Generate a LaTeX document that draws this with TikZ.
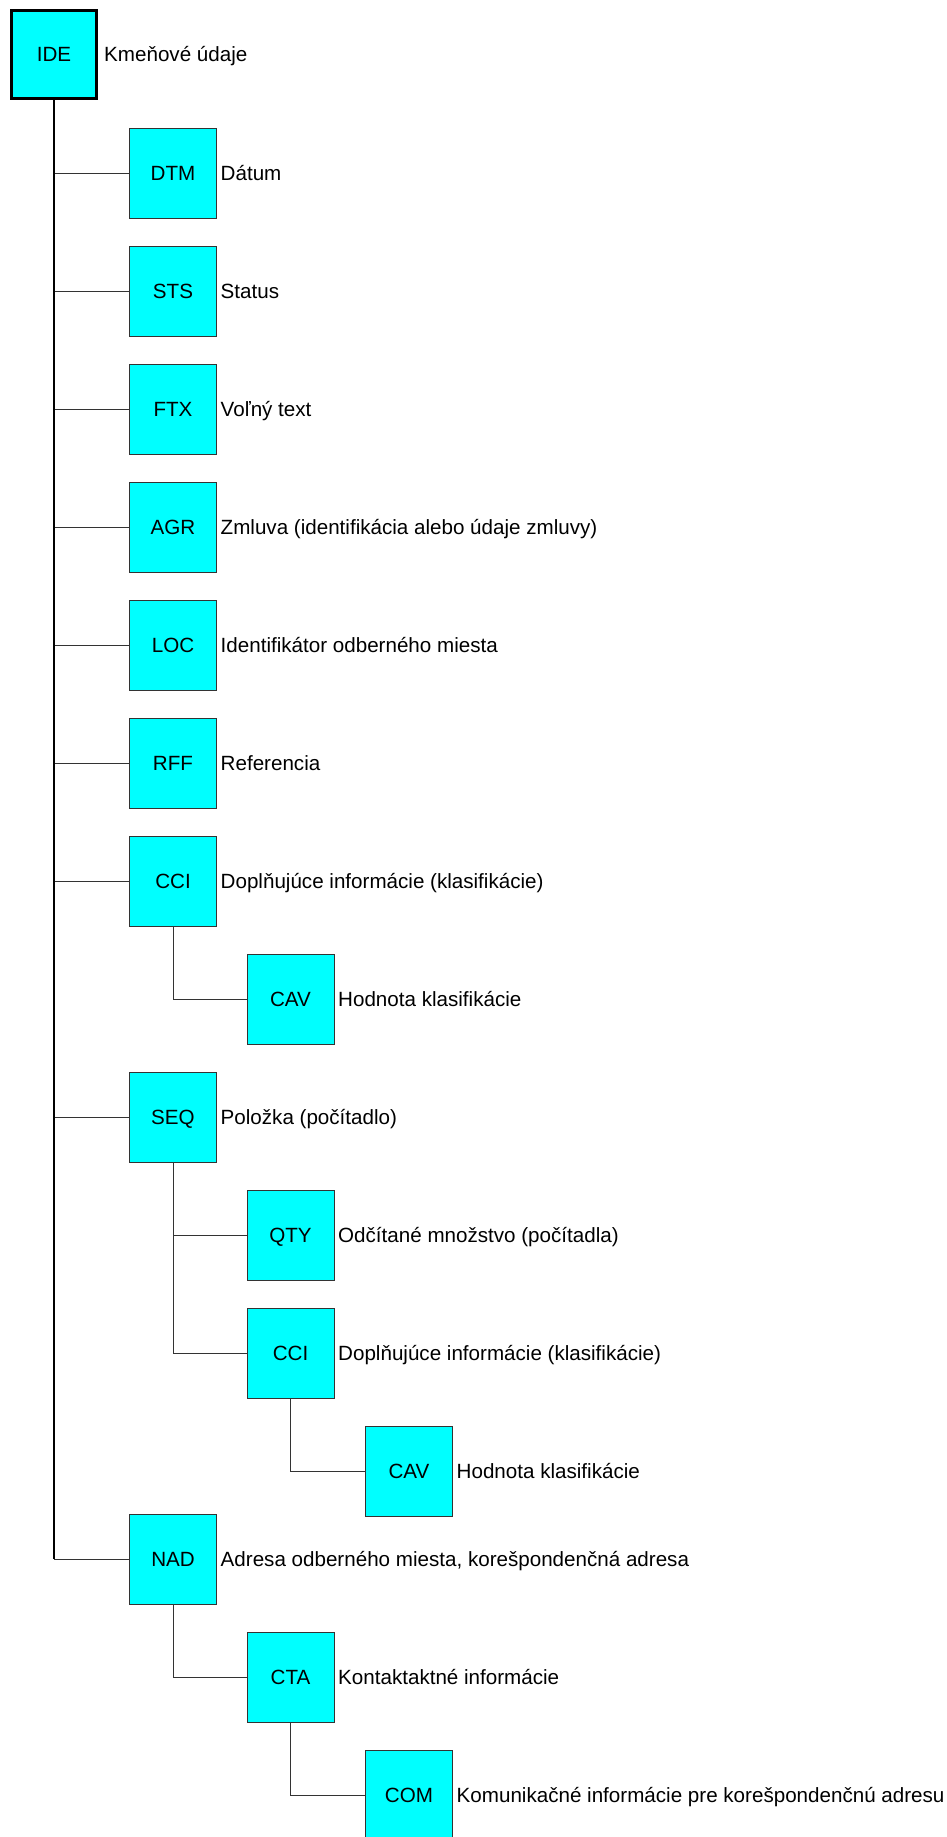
\documentclass[tikz,border=0pt]{standalone}
\usepackage{fontspec}
\setmainfont{Liberation Sans}
\definecolor{boxfill}{RGB}{0,255,255}
\begin{document}
\begin{tikzpicture}[x=1pt,y=-1pt,
  txt/.style={font=\fontsize{20.6}{24}\selectfont, text height=14.7pt, text depth=0pt},
  box/.style={txt, draw=black!80, line width=1pt, fill=boxfill, minimum width=87pt, minimum height=90pt, inner sep=0pt},
  rootbox/.style={box, draw=black, line width=3pt, minimum width=85pt, minimum height=88pt},
  lbl/.style={txt, anchor=west, inner sep=0pt},
  link/.style={draw=black!80, line width=1pt},
  trunk/.style={draw=black, line width=2pt}]
\useasboundingbox (0,0) rectangle (947,1837);
\clip (0,0) rectangle (947,1837);
% nodes
\node[rootbox] (ide) at (54,54.5) {IDE};
\node[lbl] (lide) at ([xshift=6pt]ide.east) {Kmeňové údaje};

\node[box] (dtm) at (173,173) {DTM};
\node[box] (sts) at (173,291) {STS};
\node[box] (ftx) at (173,409) {FTX};
\node[box] (agr) at (173,527) {AGR};
\node[box] (loc) at (173,645) {LOC};
\node[box] (rff) at (173,763) {RFF};
\node[box] (cci) at (173,881) {CCI};
\node[box] (cav) at (290.5,999) {CAV};
\node[box] (seq) at (173,1117) {SEQ};
\node[box] (qty) at (290.5,1235) {QTY};
\node[box] (ccib) at (290.5,1353) {CCI};
\node[box] (cavb) at (409,1471) {CAV};
\node[box] (nad) at (173,1559) {NAD};
\node[box] (cta) at (290.5,1677) {CTA};
\node[box] (com) at (409,1795) {COM};

\node[lbl] (ldtm) at ([xshift=3.5pt]dtm.east) {Dátum};
\node[lbl] (lsts) at ([xshift=3.5pt]sts.east) {Status};
\node[lbl] (lftx) at ([xshift=3.5pt]ftx.east) {Voľný text};
\node[lbl] (lagr) at ([xshift=3.5pt]agr.east) {Zmluva (identifikácia alebo údaje zmluvy)};
\node[lbl] (lloc) at ([xshift=3.5pt]loc.east) {Identifikátor odberného miesta};
\node[lbl] (lrff) at ([xshift=3.5pt]rff.east) {Referencia};
\node[lbl] (lcci) at ([xshift=3.5pt]cci.east) {Doplňujúce informácie (klasifikácie)};
\node[lbl] (lcav) at ([xshift=3.5pt]cav.east) {Hodnota klasifikácie};
\node[lbl] (lseq) at ([xshift=3.5pt]seq.east) {Položka (počítadlo)};
\node[lbl] (lqty) at ([xshift=3.5pt]qty.east) {Odčítané množstvo (počítadla)};
\node[lbl] (lccib) at ([xshift=3.5pt]ccib.east) {Doplňujúce informácie (klasifikácie)};
\node[lbl] (lcavb) at ([xshift=3.5pt]cavb.east) {Hodnota klasifikácie};
\node[lbl] (lnad) at ([xshift=3.5pt]nad.east) {Adresa odberného miesta, korešpondenčná adresa};
\node[lbl] (lcta) at ([xshift=3.5pt]cta.east) {Kontaktaktné informácie};
\node[lbl] (lcom) at ([xshift=3.5pt]com.east) {Komunikačné informácie pre korešpondenčnú adresu};

% connectors
\foreach \c in {dtm,sts,ftx,agr,loc,rff,cci,seq,nad}
  \draw[link] (ide.south) |- (\c.west);
\draw[trunk] (ide.south) -- (ide.south |- nad.west);
\draw[link] (cci.south) |- (cav.west);
\draw[link] (seq.south) |- (qty.west);
\draw[link] (seq.south) |- (ccib.west);
\draw[link] (ccib.south) |- (cavb.west);
\draw[link] (nad.south) |- (cta.west);
\draw[link] (cta.south) |- (com.west);
\end{tikzpicture}
\end{document}
